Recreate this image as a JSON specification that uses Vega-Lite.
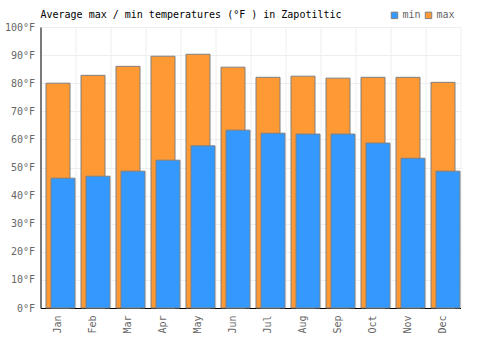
{
  "$schema": "https://vega.github.io/schema/vega-lite/v6.json",
  "width": 420,
  "height": 281,
  "autosize": {"type": "none"},
  "padding": {"left": 40.5, "top": 27, "right": 39.5, "bottom": 42},
  "background": "white",
  "config": {
    "view": {"stroke": "#eeeeee"},
    "font": "DejaVu Sans Mono"
  },
  "title": {
    "text": "Average max / min temperatures (°F ) in Zapotiltic",
    "anchor": "start",
    "frame": "group",
    "font": "DejaVu Sans Mono",
    "fontSize": 10,
    "fontWeight": "normal",
    "color": "#000000",
    "offset": -10
  },
  "data": {
    "values": [
      {"month": "Jan", "min": 46.2, "max": 80.0},
      {"month": "Feb", "min": 46.9, "max": 82.8},
      {"month": "Mar", "min": 48.7, "max": 86.0},
      {"month": "Apr", "min": 52.6, "max": 89.6},
      {"month": "May", "min": 57.7, "max": 90.3},
      {"month": "Jun", "min": 63.3, "max": 85.7},
      {"month": "Jul", "min": 62.2, "max": 82.1},
      {"month": "Aug", "min": 61.9, "max": 82.5},
      {"month": "Sep", "min": 61.9, "max": 81.8},
      {"month": "Oct", "min": 58.7, "max": 82.1},
      {"month": "Nov", "min": 53.3, "max": 82.1},
      {"month": "Dec", "min": 48.7, "max": 80.3}
    ]
  },
  "transform": [{"fold": ["min", "max"], "as": ["type", "temp"]}],
  "encoding": {
    "x": {
      "field": "month",
      "type": "nominal",
      "sort": ["Jan", "Feb", "Mar", "Apr", "May", "Jun", "Jul", "Aug", "Sep", "Oct", "Nov", "Dec"],
      "scale": {"paddingInner": 0, "paddingOuter": 0},
      "axis": {
        "title": null,
        "labelAngle": 270,
        "labelFont": "DejaVu Sans Mono",
        "labelFontSize": 10,
        "labelColor": "#666666",
        "labelPadding": 7,
        "ticks": false,
        "domainColor": "#000000",
        "domainWidth": 1,
        "grid": true,
        "gridColor": "#eeeeee",
        "bandPosition": 0
      }
    },
    "y": {
      "field": "temp",
      "type": "quantitative",
      "scale": {"domain": [0, 100], "nice": false},
      "axis": {
        "title": null,
        "values": [0, 10, 20, 30, 40, 50, 60, 70, 80, 90, 100],
        "labelExpr": "datum.value + '°F'",
        "labelFont": "DejaVu Sans Mono",
        "labelFontSize": 10,
        "labelColor": "#666666",
        "labelPadding": 6,
        "ticks": false,
        "domainColor": "#000000",
        "domainWidth": 1,
        "gridColor": "#eeeeee"
      }
    },
    "color": {
      "field": "type",
      "type": "nominal",
      "scale": {"domain": ["min", "max"], "range": ["#3399ff", "#ff9933"]},
      "legend": {
        "title": null,
        "orient": "none",
        "direction": "horizontal",
        "legendX": 349,
        "legendY": -17,
        "symbolType": "square",
        "symbolSize": 42,
        "symbolStrokeColor": "#808080",
        "symbolStrokeWidth": 1,
        "symbolOpacity": 1,
        "labelFont": "DejaVu Sans Mono",
        "labelFontSize": 10,
        "labelColor": "#666666",
        "labelOffset": 3,
        "columnPadding": 1
      }
    }
  },
  "layer": [
    {
      "transform": [{"filter": "datum.type === 'max'"}],
      "mark": {"type": "bar", "width": 24, "stroke": "#808080", "strokeWidth": 1, "opacity": 1}
    },
    {
      "transform": [{"filter": "datum.type === 'min'"}],
      "mark": {"type": "bar", "width": 24, "xOffset": 5, "stroke": "#808080", "strokeWidth": 1, "opacity": 1}
    }
  ]
}
